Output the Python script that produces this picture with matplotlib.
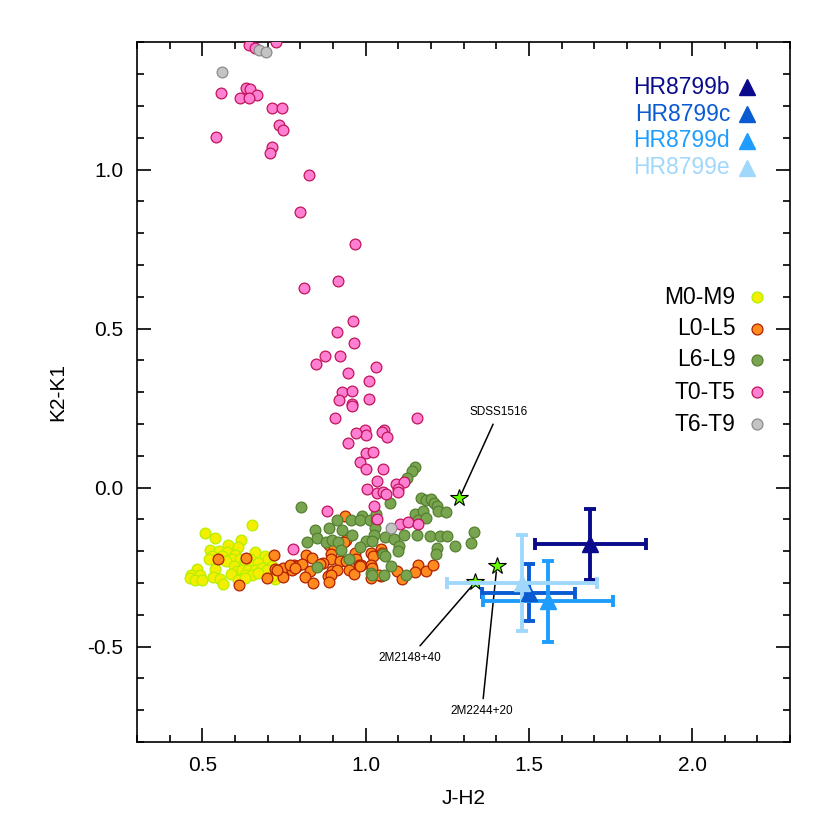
import matplotlib
matplotlib.use("Agg")
import matplotlib.pyplot as plt
from matplotlib.ticker import MultipleLocator, FixedLocator, FixedFormatter

plt.rcParams['font.family'] = ['Liberation Sans', 'DejaVu Sans']
plt.rcParams['axes.unicode_minus'] = False

# spectral type samples (J-H2, K2-K1)
m_x = [0.651, 0.508, 0.539, 0.580, 0.619, 0.610, 0.524, 0.552, 0.575, 0.600,
       0.660, 0.529, 0.559, 0.590, 0.573, 0.539, 0.616, 0.631, 0.646, 0.692,
       0.700, 0.651, 0.672, 0.539, 0.598, 0.605, 0.621, 0.641, 0.662, 0.682,
       0.713, 0.697, 0.483, 0.467, 0.493, 0.462, 0.478, 0.498, 0.532, 0.588,
       0.631, 0.651, 0.672, 0.554, 0.564, 0.608, 0.631, 0.723, 0.521, 0.713]
m_y = [-0.119, -0.142, -0.160, -0.179, -0.164, -0.188, -0.197, -0.200, -0.203, -0.211,
       -0.201, -0.216, -0.216, -0.224, -0.232, -0.232, -0.226, -0.232, -0.226, -0.216,
       -0.226, -0.242, -0.237, -0.256, -0.247, -0.263, -0.258, -0.258, -0.258, -0.253,
       -0.247, -0.258, -0.256, -0.274, -0.274, -0.284, -0.292, -0.292, -0.281, -0.271,
       -0.274, -0.274, -0.268, -0.287, -0.302, -0.292, -0.284, -0.287, -0.224, -0.279]

l0_x = [0.634, 0.549, 0.937, 0.720, 0.939, 0.933, 0.887, 0.903, 0.819, 0.837,
        1.017, 1.024, 1.046, 0.969, 0.972, 0.894, 0.895, 0.921, 0.939, 0.871,
        0.859, 0.781, 0.791, 0.806, 0.746, 0.724, 0.979, 0.986, 1.016, 1.021,
        1.095, 1.162, 1.186, 1.205, 0.830, 0.898, 0.914, 0.949, 0.966, 0.748,
        0.698, 0.814, 0.886, 0.895, 1.046, 1.110, 0.840, 0.887, 1.016, 0.613,
        0.728, 0.774, 1.050, 1.040, 1.150, 0.984, 0.770, 0.785]
l0_y = [-0.222, -0.226, -0.088, -0.211, -0.164, -0.171, -0.179, -0.188, -0.211, -0.221,
        -0.205, -0.216, -0.193, -0.205, -0.224, -0.208, -0.224, -0.232, -0.232, -0.237,
        -0.239, -0.242, -0.247, -0.240, -0.252, -0.256, -0.242, -0.242, -0.242, -0.253,
        -0.262, -0.242, -0.261, -0.242, -0.263, -0.263, -0.258, -0.258, -0.271, -0.281,
        -0.284, -0.281, -0.279, -0.276, -0.277, -0.288, -0.300, -0.297, -0.284, -0.306,
        -0.258, -0.258, -0.205, -0.274, -0.266, -0.247, -0.242, -0.252]

l6_x = [1.152, 1.142, 1.126, 1.171, 1.186, 1.199, 1.208, 1.218, 1.221, 1.246,
        0.803, 1.076, 1.150, 1.175, 1.160, 1.185, 0.912, 0.954, 0.988, 0.984,
        1.015, 1.033, 1.033, 0.844, 0.887, 0.929, 0.957, 1.029, 1.027, 1.061,
        1.088, 1.117, 1.156, 1.198, 1.228, 1.249, 0.851, 0.820, 0.878, 0.898,
        0.916, 1.000, 1.021, 0.982, 1.102, 1.098, 1.219, 1.216, 1.275, 1.053,
        1.061, 0.949, 1.078, 0.852, 1.016, 1.021, 1.057, 1.125, 1.332, 1.324,
        0.924]
l6_y = [0.066, 0.053, 0.031, -0.032, -0.038, -0.036, -0.048, -0.059, -0.073, -0.076,
        -0.060, -0.049, -0.082, -0.075, -0.101, -0.095, -0.101, -0.103, -0.090, -0.101,
        -0.101, -0.101, -0.082, -0.134, -0.126, -0.134, -0.148, -0.126, -0.148, -0.154,
        -0.161, -0.148, -0.148, -0.151, -0.153, -0.151, -0.157, -0.171, -0.171, -0.164,
        -0.171, -0.169, -0.169, -0.186, -0.185, -0.200, -0.189, -0.208, -0.185, -0.208,
        -0.216, -0.226, -0.247, -0.249, -0.268, -0.275, -0.275, -0.275, -0.141, -0.174,
        -0.197]

t0_x = [0.642, 0.660, 0.726, 0.556, 0.634, 0.647, 0.668, 0.617, 0.642, 0.714,
        0.744, 0.735, 0.748, 0.543, 0.714, 0.706, 0.827, 0.798, 0.967, 0.915,
        0.813, 0.960, 0.912, 0.965, 0.877, 0.923, 0.848, 1.031, 0.946, 1.010,
        0.929, 0.957, 0.919, 1.010, 0.959, 0.959, 0.906, 1.156, 0.999, 1.000,
        0.971, 1.056, 1.051, 1.067, 0.947, 1.000, 1.022, 0.982, 1.002, 1.053,
        1.034, 1.094, 1.119, 1.005, 1.035, 1.053, 1.064, 1.098, 1.100, 1.025,
        0.883, 1.035, 1.104, 1.130, 1.160, 0.777]
t0_y = [1.393, 1.383, 1.400, 1.240, 1.257, 1.252, 1.234, 1.224, 1.224, 1.195,
        1.192, 1.139, 1.123, 1.103, 1.070, 1.051, 0.983, 0.866, 0.765, 0.648,
        0.626, 0.524, 0.490, 0.456, 0.413, 0.413, 0.388, 0.380, 0.359, 0.336,
        0.299, 0.304, 0.275, 0.277, 0.263, 0.258, 0.218, 0.219, 0.180, 0.164,
        0.172, 0.182, 0.175, 0.159, 0.139, 0.109, 0.111, 0.080, 0.058, 0.060,
        0.020, 0.010, 0.019, -0.005, -0.017, -0.014, -0.019, -0.006, -0.014, -0.057,
        -0.075, -0.098, -0.116, -0.108, -0.114, -0.194]

t6_x = [0.675, 0.696, 0.561, 1.077]
t6_y = [1.375, 1.369, 1.307, -0.128]

# benchmark objects
star_names = ['SDSS1516', '2M2148+40', '2M2244+20']
star_x = [1.287, 1.336, 1.402]
star_y = [-0.034, -0.297, -0.248]
label_x = [1.408, 1.135, 1.356]
label_y = [0.239, -0.535, -0.704]

# HR8799 planets
hr_names = ['HR8799b', 'HR8799c', 'HR8799d', 'HR8799e']
hr_x = [1.688, 1.499, 1.559, 1.480]
hr_y = [-0.178, -0.330, -0.358, -0.300]
hr_xerr = [0.170, 0.142, 0.200, 0.230]
hr_yerr = [0.111, 0.090, 0.126, 0.151]
hr_colors = ['#0a0a8c', '#0a5ad2', '#1e9dff', '#a0d8fc']

fig = plt.figure(figsize=(8.3, 8.3), dpi=100)
ax = fig.add_axes([0.165, 0.106, 0.787, 0.843])

groups = [
    ('M0-M9', m_x, m_y, '#f4ee00', '#b4f000'),
    ('L0-L5', l0_x, l0_y, '#ff8a1e', '#b02000'),
    ('L6-L9', l6_x, l6_y, '#7aa550', '#557f30'),
    ('T0-T5', t0_x, t0_y, '#ff80d2', '#c0145a'),
    ('T6-T9', t6_x, t6_y, '#c4c4c4', '#8c8c8c'),
]
# drawing order: L0-L5 underneath, then the rest
draw_order = [1, 0, 2, 3, 4]
for i in draw_order:
    name, gx, gy, fc, ec = groups[i]
    ax.scatter(gx, gy, s=60, c=fc, edgecolors=ec, linewidths=0.9, zorder=3 + 0.1 * i)

# spectral type legend
leg_y = [0.636, 0.591, 0.546, 0.500, 0.454]
for (name, gx, gy, fc, ec), ly in zip(groups, leg_y):
    ax.text(0.916, ly, name, transform=ax.transAxes, ha='right', va='center', fontsize=16.5)
    ax.scatter([0.949], [ly], s=62, c=fc, edgecolors=ec, linewidths=0.9,
               transform=ax.transAxes, clip_on=False, zorder=5)

# stars with labels
ax.plot(star_x, star_y, ls='none', marker='*', ms=13, mfc='#66ff00', mec='black',
        mew=0.8, zorder=6)
for name, sx, sy, tx, ty in zip(star_names, star_x, star_y, label_x, label_y):
    ax.annotate(name, xy=(sx, sy), xytext=(tx, ty), ha='center', va='center', fontsize=8.5,
                arrowprops=dict(arrowstyle='-', color='black', lw=1.1, shrinkA=3, shrinkB=4),
                zorder=5)

# HR8799 planets with error bars
for name, hx, hy, xe, ye, col in zip(hr_names, hr_x, hr_y, hr_xerr, hr_yerr, hr_colors):
    ax.errorbar(hx, hy, xerr=xe, yerr=ye, fmt='^', ms=11, color=col, mec=col,
                elinewidth=2.8, capsize=4, capthick=2.8, zorder=7)

hr_ly = [0.936, 0.897, 0.859, 0.821]
for name, col, ly in zip(hr_names, hr_colors, hr_ly):
    ax.text(0.908, ly, name, transform=ax.transAxes, ha='right', va='center',
            fontsize=16.5, color=col)
    ax.plot([0.934], [ly], marker='^', ms=11, color=col, transform=ax.transAxes,
            clip_on=False, zorder=5)

ax.set_xlim(0.3, 2.3)
ax.set_ylim(-0.8, 1.4)
ax.xaxis.set_major_locator(FixedLocator([0.5, 1.0, 1.5, 2.0]))
ax.xaxis.set_major_formatter(FixedFormatter(['0.5', '1.0', '1.5', '2.0']))
ax.yaxis.set_major_locator(FixedLocator([-0.5, 0.0, 0.5, 1.0]))
ax.yaxis.set_major_formatter(FixedFormatter(['-0.5', '0.0', '0.5', '1.0']))
ax.xaxis.set_minor_locator(MultipleLocator(0.1))
ax.yaxis.set_minor_locator(MultipleLocator(0.1))
ax.tick_params(which='both', direction='in', top=True, right=True, width=1.2)
ax.tick_params(which='major', length=10, labelsize=15, pad=10)
ax.tick_params(which='minor', length=5)
for sp in ax.spines.values():
    sp.set_linewidth(1.2)

ax.set_xlabel('J-H2', fontsize=15, labelpad=10)
ax.set_ylabel('K2-K1', fontsize=15, labelpad=14)

fig.savefig('out.png', dpi=100)
